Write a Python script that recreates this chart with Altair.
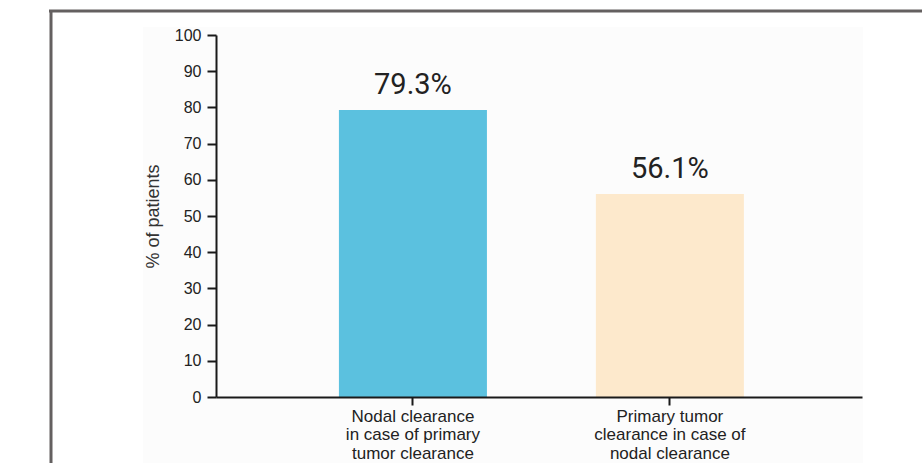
import altair as alt
import pandas as pd

# ---- data ----
category_lines = [
    ["Nodal clearance", "in case of primary", "tumor clearance"],
    ["Primary tumor", "clearance in case of", "nodal clearance"],
]
categories = ["|".join(lines) for lines in category_lines]
values = [79.3, 56.1]
value_labels = ["79.3%", "56.1%"]
bar_colors = ["#5bc1df", "#fde9cc"]
y_ticks = [0, 10, 20, 30, 40, 50, 60, 70, 80, 90, 100]

df = pd.DataFrame({
    "category": categories,
    "value": values,
    "label": value_labels,
    "color": bar_colors,
})

W, H = 646, 362
PAD_L, PAD_T = 216, 35

x_enc = alt.X(
    "category:N",
    sort=categories,
    scale=alt.Scale(paddingInner=0.424, paddingOuter=0.469, align=0.51),
    axis=alt.Axis(
        title=None,
        zindex=1,
        labelAngle=0,
        labelExpr="split(datum.label, '|')",
        labelFont="Liberation Sans",
        labelFontSize=17,
        labelColor="#222222",
        labelLineHeight=18.5,
        labelBaseline="top",
        labelPadding=3,
        tickSize=8,
        tickWidth=2,
        tickColor="#1a1a1a",
        domainColor="#1a1a1a",
        domainWidth=2,
        grid=False,
    ),
)

y_enc = alt.Y(
    "value:Q",
    scale=alt.Scale(domain=[0, 100], nice=False),
    axis=alt.Axis(
        title="% of patients",
        zindex=1,
        values=y_ticks,
        labelOverlap=False,
        titleFont="Liberation Sans",
        titleFontSize=18,
        titleFontWeight="normal",
        titleColor="#333333",
        titleAngle=-90,
        titleX=-63,
        titleY=H / 2,
        titleAlign="center",
        titleBaseline="middle",
        labelFont="Liberation Sans",
        labelFontSize=16,
        labelColor="#222222",
        labelPadding=6,
        tickSize=9,
        tickWidth=2,
        tickColor="#1a1a1a",
        domainColor="#1a1a1a",
        domainWidth=2,
        grid=False,
    ),
)

deco = alt.Data(values=[{}])

# faint off-white panel and gray frame (decoration only)
panel = alt.Chart(deco).mark_rect(color="#fcfcfc").encode(
    x=alt.value(143 - PAD_L), x2=alt.value(863 - PAD_L),
    y=alt.value(27 - PAD_T), y2=alt.value(463 - PAD_T),
)
frame_top = alt.Chart(deco).mark_rule(color="#646060", strokeWidth=3).encode(
    x=alt.value(49 - PAD_L), x2=alt.value(922 - PAD_L),
    y=alt.value(11 - PAD_T),
)
frame_left = alt.Chart(deco).mark_rule(color="#646060", strokeWidth=3).encode(
    x=alt.value(51 - PAD_L),
    y=alt.value(10 - PAD_T), y2=alt.value(463 - PAD_T),
)

bars = alt.Chart(df).mark_bar().encode(
    x=x_enc,
    y=y_enc,
    color=alt.Color("color:N", scale=None, legend=None),
)

text = alt.Chart(df).mark_text(
    font="Roboto", fontSize=29, color="#222222", baseline="alphabetic", dy=-16
).encode(
    x=x_enc,
    y=y_enc,
    text="label:N",
)

chart = alt.layer(panel, frame_top, frame_left, bars, text).properties(
    width=W,
    height=H,
    autosize=alt.AutoSizeParams(type="none"),
    padding={"left": PAD_L, "top": PAD_T, "right": 922 - PAD_L - W, "bottom": 463 - PAD_T - H},
    background="white",
).configure_view(stroke=None)

chart.save("out.html", embed_options={"renderer": "svg", "actions": False})
